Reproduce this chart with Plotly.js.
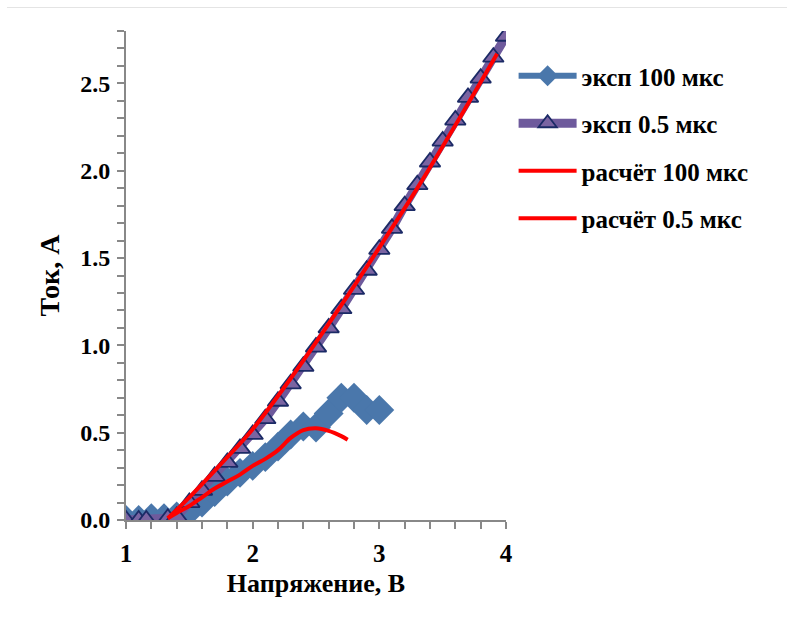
<!DOCTYPE html>
<html>
<head>
<meta charset="utf-8">
<script src="https://cdn.plot.ly/plotly-3.0.1.min.js"></script>
<style>
  html, body { margin: 0; padding: 0; background: #ffffff; }
  #chart { width: 787px; height: 619px; }
  #topline { position: absolute; top: 7px; left: 7px; right: 0; height: 1px; background: #e4e4e4; }
</style>
</head>
<body>
<div id="topline"></div>
<div id="chart"></div>
<script>
// ---- data ----
const namesSeries = ["эксп 100 мкс", "эксп 0.5 мкс", "расчёт 100 мкс", "расчёт 0.5 мкс"];

const exp100_V = [1.0, 1.1, 1.2, 1.3, 1.4, 1.5, 1.6, 1.7, 1.8, 1.9, 2.0, 2.1, 2.2, 2.3, 2.4, 2.5, 2.6, 2.7, 2.8, 2.9, 3.0];
const exp100_I = [0.0, 0.0, 0.01, 0.01, 0.02, 0.05, 0.10, 0.16, 0.22, 0.27, 0.31, 0.36, 0.42, 0.49, 0.535, 0.53, 0.61, 0.70, 0.70, 0.63, 0.63];

const exp05_V = [1.0, 1.1, 1.16, 1.33, 1.4, 1.5, 1.6, 1.7, 1.8, 1.9, 2.0, 2.1, 2.2, 2.3, 2.4, 2.5, 2.6, 2.7, 2.8, 2.9, 3.0, 3.1, 3.2, 3.3, 3.4, 3.5, 3.6, 3.7, 3.8, 3.9, 4.0];
const exp05_I = [0.0, 0.0, 0.0, 0.01, 0.02, 0.10, 0.17, 0.25, 0.33, 0.41, 0.49, 0.58, 0.68, 0.78, 0.88, 0.99, 1.10, 1.21, 1.32, 1.43, 1.55, 1.67, 1.80, 1.92, 2.05, 2.17, 2.29, 2.42, 2.53, 2.65, 2.77];

const calc100_V = [1.33, 1.4, 1.5, 1.6, 1.7, 1.8, 1.9, 2.0, 2.1, 2.2, 2.3, 2.4, 2.5, 2.6, 2.7, 2.75];
const calc100_I = [0.01, 0.04, 0.08, 0.13, 0.18, 0.22, 0.26, 0.31, 0.35, 0.40, 0.47, 0.515, 0.525, 0.51, 0.48, 0.46];

const calc05_V = [1.33, 1.5, 1.8, 2.0, 2.3, 2.7, 3.0, 3.3, 3.6, 3.93];
const calc05_I = [0.01, 0.13, 0.36, 0.52, 0.81, 1.23, 1.56, 1.90, 2.26, 2.67];

const xTickVals = [1, 2, 3, 4];
const yTickVals = [0, 0.5, 1.0, 1.5, 2.0, 2.5];
const yTickText = ["0.0", "0.5", "1.0", "1.5", "2.0", "2.5"];

// ---- chart ----
const FONT = "Liberation Serif, Times New Roman, serif";
const traces = [
  {
    x: exp100_V, y: exp100_I, name: namesSeries[0], mode: "lines+markers", legendgroup: "a",
    line: { color: "#4a77ab", width: 6 },
    marker: { symbol: "diamond", size: 23, color: "#4a77ab" }
  },
  {
    x: exp05_V, y: exp05_I, name: namesSeries[1], mode: "lines+markers", legendgroup: "b",
    line: { color: "#6e5a9c", width: 9 },
    marker: { symbol: "triangle-up", size: 18, color: "#7a64a2", line: { color: "#1b2a66", width: 1.8 } }
  },
  {
    x: calc100_V, y: calc100_I, name: namesSeries[2], mode: "lines", legendgroup: "c",
    line: { color: "#ff0000", width: 4, shape: "spline", smoothing: 1 }
  },
  {
    x: calc05_V, y: calc05_I, name: namesSeries[3], mode: "lines", legendgroup: "d",
    line: { color: "#ff0000", width: 4, shape: "spline", smoothing: 1 }
  }
];

const axisLine = "#888888";
const layout = {
  width: 787, height: 619,
  paper_bgcolor: "rgba(0,0,0,0)", plot_bgcolor: "rgba(0,0,0,0)",
  margin: { l: 126, r: 281, t: 31, b: 99 },
  font: { family: FONT, color: "#000000" },
  showlegend: true,
  legend: {
    x: 1.02, xanchor: "left", y: 0.955, yanchor: "top",
    font: { family: FONT, size: 25, weight: "bold", color: "#000" },
    tracegroupgap: 12, itemwidth: 58, bgcolor: "rgba(0,0,0,0)"
  },
  xaxis: {
    range: [1, 4], showgrid: false, zeroline: false,
    showline: true, linecolor: axisLine, linewidth: 2,
    tickmode: "array", tickvals: xTickVals,
    ticks: "outside", ticklen: 7, tickwidth: 2, tickcolor: axisLine,
    minor: { dtick: 0.2, ticks: "outside", ticklen: 7, tickwidth: 2, tickcolor: axisLine, showgrid: false },
    tickfont: { family: FONT, size: 25, weight: "bold", color: "#000" },
    ticklabelstandoff: 3,
    title: { text: "Напряжение, В", font: { family: FONT, size: 26, weight: "bold", color: "#000" }, standoff: 8 }
  },
  yaxis: {
    range: [0, 2.8], showgrid: false, zeroline: false,
    showline: true, linecolor: axisLine, linewidth: 2,
    tickmode: "array", tickvals: yTickVals, ticktext: yTickText,
    ticks: "outside", ticklen: 7, tickwidth: 2, tickcolor: axisLine,
    minor: { dtick: 0.1, ticks: "outside", ticklen: 7, tickwidth: 2, tickcolor: axisLine, showgrid: false },
    tickfont: { family: FONT, size: 24, weight: "bold", color: "#000" },
    ticklabelstandoff: 2,
    title: { text: "Ток, А", font: { family: FONT, size: 28, weight: "bold", color: "#000" }, standoff: 12 }
  }
};

Plotly.newPlot("chart", traces, layout, { displayModeBar: false, staticPlot: true });
</script>
</body>
</html>
